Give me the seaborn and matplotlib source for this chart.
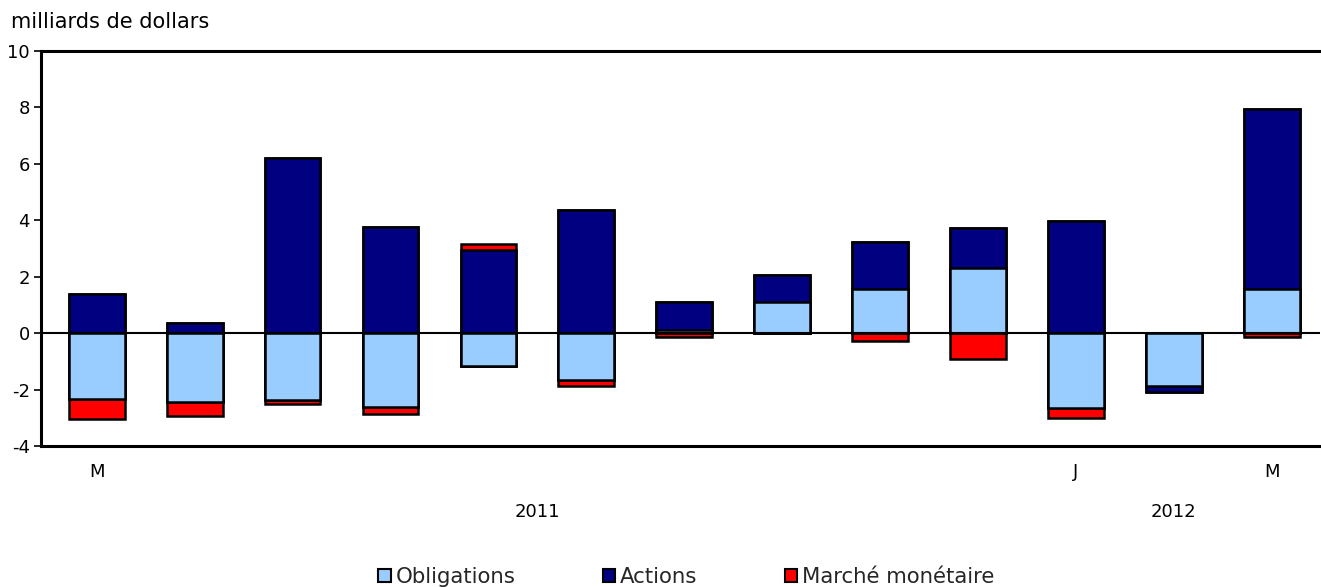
import numpy as np
import pandas as pd
import matplotlib
matplotlib.use("Agg")
import matplotlib.pyplot as plt
import seaborn as sns
from matplotlib.patches import Patch

months = ["2011-03", "2011-04", "2011-05", "2011-06", "2011-07", "2011-08", "2011-09",
          "2011-10", "2011-11", "2011-12", "2012-01", "2012-02", "2012-03"]
tick_labels = ["M", "", "", "", "", "", "", "", "", "", "J", "", "M"]
obligations = [-2.35, -2.45, -2.38, -2.6, -1.15, -1.65, 0.1, 1.1, 1.55, 2.3, -2.65, -1.87, 1.55]
actions = [1.4, 0.35, 6.22, 3.76, 2.95, 4.38, 1.0, 0.95, 1.68, 1.43, 3.97, -0.23, 6.4]
marche_monetaire = [-0.7, -0.5, -0.13, -0.28, 0.2, -0.23, -0.15, 0.0, -0.28, -0.92, -0.37, 0.0, -0.15]

names = ["Obligations", "Actions", "Marché monétaire"]
colors = ["#99CCFF", "#000080", "#FF0000"]

sns.set_theme(style="white")
plt.rcParams["font.family"] = ["DejaVu Sans"]
plt.rcParams["axes.unicode_minus"] = False

fig = plt.figure(figsize=(13.21, 5.87), dpi=100)
ax = fig.add_axes([0.031, 0.2402, 0.968, 0.6729])

series = [np.array(obligations), np.array(actions), np.array(marche_monetaire)]
pos_cum = np.cumsum([np.clip(s, 0, None) for s in series], axis=0)
neg_cum = np.cumsum([np.clip(s, None, 0) for s in series], axis=0)

# Draw cumulative layers from outermost to innermost (overlay = stacked look)
for cum in (pos_cum, neg_cum):
    for i in [2, 1, 0]:
        df = pd.DataFrame({"mois": months, "valeur": cum[i]})
        sns.barplot(data=df, x="mois", y="valeur", order=months, color=colors[i],
                    saturation=1, width=0.57, edgecolor="black", linewidth=1.8,
                    ax=ax, errorbar=None)

ax.axhline(0, color="black", linewidth=1.5, zorder=5)

ax.set_xlim(-0.57, 12.49)
ax.set_ylim(-4, 10)
ax.set_yticks(range(-4, 11, 2))
ax.set_xticks(range(len(months)))
ax.set_xticklabels(tick_labels)
ax.set_xlabel("")
ax.set_ylabel("")

for side in ["left", "top", "bottom"]:
    ax.spines[side].set_visible(True)
    ax.spines[side].set_color("black")
    ax.spines[side].set_linewidth(2.2)
ax.spines["right"].set_visible(False)

ax.tick_params(axis="y", which="both", left=True, length=5, width=1.2, color="black",
               labelsize=13, pad=3, labelcolor="black")
ax.tick_params(axis="x", which="both", bottom=False, labelsize=13, pad=6, labelcolor="black")

ax.text(4.5, -6.34, "2011", ha="center", va="center", fontsize=13, color="black")
ax.text(11.0, -6.34, "2012", ha="center", va="center", fontsize=13, color="black")

fig.text(0.008, 0.963, "milliards de dollars", ha="left", va="center", fontsize=15, color="black")

handles = [Patch(facecolor=c, edgecolor="black", linewidth=1.5) for c in colors]
fig.legend(handles, names, loc="center", bbox_to_anchor=(0.5195, 0.017), ncol=3,
           frameon=False, fontsize=15.3, handlelength=0.6, handleheight=0.6,
           handletextpad=0.23, columnspacing=4.1, borderaxespad=0)

fig.savefig("out.png", dpi=100)
